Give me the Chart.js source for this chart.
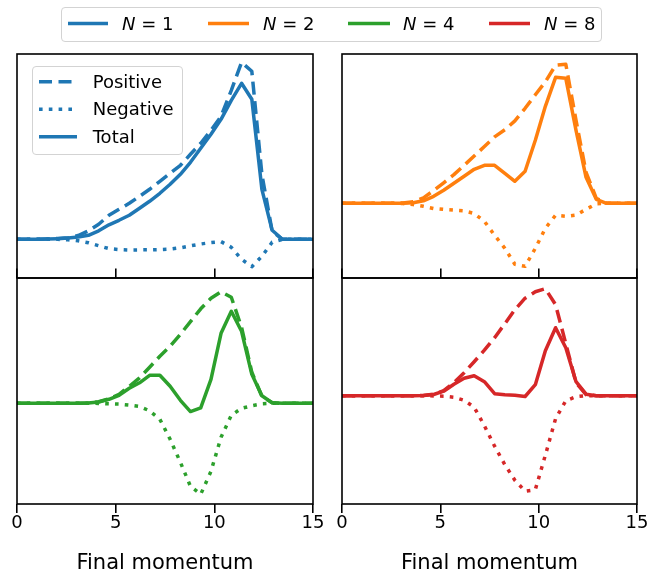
<!DOCTYPE html>
<html lang="en">
<head>
<meta charset="UTF-8">
<title>Final momentum</title>
<script src="https://cdn.jsdelivr.net/npm/chart.js"></script>
<style>
  body { margin: 0; background: #fff; font-family: "DejaVu Sans", sans-serif; }
  #page { position: relative; width: 663px; height: 574px; overflow: hidden; }
  canvas { position: absolute; }
  .box { position: absolute; box-sizing: border-box; border: 1.5px solid #d3d3d3; border-radius: 4px; background: #fff; }
  .txt { position: absolute; font-size: 18px; line-height: 20px; white-space: nowrap; color: #000; }
  svg { position: absolute; left: 0; top: 0; }
</style>
</head>
<body>
<div id="page">
  <canvas id="p1" width="330" height="244" style="left:0px; top:44px"></canvas>
  <canvas id="p2" width="330" height="244" style="left:325px; top:44px"></canvas>
  <canvas id="p3" width="330" height="312" style="left:0px; top:268px"></canvas>
  <canvas id="p4" width="330" height="312" style="left:325px; top:268px"></canvas>

  <div class="box" style="left:61px; top:7px; width:541px; height:35px"></div>
  <div class="box" style="left:32px; top:66px; width:151px; height:89px"></div>
  <svg width="663" height="574">
    <line x1="68" y1="23.5" x2="108" y2="23.5" stroke="#1f77b4" stroke-width="3.6"/>
    <line x1="208" y1="23.5" x2="249" y2="23.5" stroke="#ff7f0e" stroke-width="3.6"/>
    <line x1="348" y1="23.5" x2="390" y2="23.5" stroke="#2ca02c" stroke-width="3.6"/>
    <line x1="489" y1="23.5" x2="530" y2="23.5" stroke="#d62728" stroke-width="3.6"/>
    <line x1="39" y1="81.7" x2="77" y2="81.7" stroke="#1f77b4" stroke-width="3.6" stroke-dasharray="13 6.5"/>
    <line x1="39" y1="109.3" x2="77" y2="109.3" stroke="#1f77b4" stroke-width="3.6" stroke-dasharray="3.6 6.2"/>
    <line x1="39" y1="136.7" x2="77" y2="136.7" stroke="#1f77b4" stroke-width="3.6"/>
  </svg>
  <div class="txt" style="left:122px; top:13.5px"><i>N</i> = 1</div>
  <div class="txt" style="left:263px; top:13.5px"><i>N</i> = 2</div>
  <div class="txt" style="left:403px; top:13.5px"><i>N</i> = 4</div>
  <div class="txt" style="left:544px; top:13.5px"><i>N</i> = 8</div>
  <div class="txt" style="left:92.7px; top:71.7px">Positive</div>
  <div class="txt" style="left:92.7px; top:99.3px">Negative</div>
  <div class="txt" style="left:92.7px; top:126.7px">Total</div>
</div>
<script>
  // final momentum grid
  const momentum = [0, 0.52, 1.03, 1.55, 2.07, 2.59, 3.10, 3.62, 4.14, 4.66, 5.17, 5.69, 6.21, 6.72, 7.24,
                    7.76, 8.28, 8.79, 9.31, 9.83, 10.34, 10.86, 11.38, 11.90, 12.41, 12.93, 13.45, 13.97, 14.48, 15.00]

  // N = 1
  const n1Positive = [0, 0, 0, 0.3, 0.8, 1.5, 3.8, 8.5, 15, 24, 30, 36, 43, 50, 58,
                      66, 74, 85, 96, 109, 123, 149, 177, 168, 65, 8, 0, 0, 0, 0]
  const n1Negative = [0, 0, 0, 0, 0, -0.5, -1.5, -3.5, -6.5, -9.3, -10.3, -10.7, -10.6, -10.5, -10.3,
                      -9.8, -8.5, -6.5, -4.7, -3.3, -2.3, -8, -20, -27.4, -17, -3, 0, 0, 0, 0]
  const n1Total = [0, 0, 0, 0.2, 0.6, 1.2, 2.2, 4, 8.5, 14.5, 19, 24, 31, 38, 46,
                   55, 65, 77, 91, 105, 120, 139, 156, 140, 50, 9, 0, 0, 0, 0]

  // N = 2
  const n2Positive = [0, 0, 0, 0, 0, 0, 0.3, 1.5, 5.5, 12.8, 20.5, 28.7, 38, 47.3, 56.8,
                      66.4, 73.5, 82.4, 95, 108.5, 121.5, 138, 139, 83, 31, 5, 0, 0, 0, 0]
  const n2Negative = [0, 0, 0, 0, 0, 0, -0.2, -1.2, -3, -5.2, -6.1, -6.8, -7.5, -10.2, -18,
                      -32, -45, -61, -63, -45, -25, -12, -13, -11.7, -6, -0.5, 0, 0, 0, 0]
  const n2Total = [0, 0, 0, 0, 0, 0, 0.1, 0.5, 2.5, 7, 13, 20, 27, 34, 38,
                   38, 30, 22, 32, 63, 97, 126, 125, 73, 26, 4, 0, 0, 0, 0]

  // N = 4
  const n4Positive = [0, 0, 0, 0, 0, 0, 0, 0.3, 1.5, 4.5, 9, 17, 25.5, 36, 47,
                      57, 69, 81.6, 94.5, 105, 111.5, 106, 76, 31, 7, 0.5, 0, 0, 0, 0]
  const n4Negative = [0, 0, 0, 0, 0, 0, 0, 0, -0.1, -0.5, -0.8, -1.8, -3.2, -7.5, -16,
                      -36, -59, -83, -91, -68, -34, -12, -5, -2.5, -0.5, 0, 0, 0, 0, 0]
  const n4Total = [0, 0, 0, 0, 0, 0, 0, 0.2, 1.3, 4, 8, 15, 20.5, 28, 28,
                   17, 3, -8.3, -4.5, 24, 70, 92, 72, 29, 7.5, 0.5, 0, 0, 0, 0]

  // N = 8
  const n8Positive = [0, 0, 0, 0, 0, 0, 0, 0, 0.3, 1.5, 5, 13, 23, 34, 45.5,
                      58, 72, 86, 97.5, 104, 107, 91, 52, 13, 1, 0, 0, 0, 0, 0]
  const n8Negative = [0, 0, 0, 0, 0, 0, 0, 0, 0, -0.2, -0.5, -1.5, -4.6, -11.5, -30,
                      -50.5, -69, -84.5, -95.5, -94, -59.5, -23, -5, -1, 0, 0, 0, 0, 0, 0]
  const n8Total = [0, 0, 0, 0, 0, 0, 0, 0, 0.2, 1.2, 4.5, 11.5, 17.5, 20, 14,
                   2, 1, 0.5, -0.8, 11, 45, 68, 48, 14, 1.5, 0, 0, 0, 0, 0]

  // box around each plot (matplotlib spines)
  const frame = {
    id: 'frame',
    afterDraw(chart) {
      const a = chart.chartArea
      const ctx = chart.ctx
      ctx.save()
      ctx.strokeStyle = '#000'
      ctx.lineWidth = 1.6
      ctx.strokeRect(a.left, a.top, a.right - a.left, a.bottom - a.top)
      ctx.restore()
    }
  }

  function painel(id, cor, pos, neg, tot, yMin, yMax, embaixo, padRight) {
    const pts = arr => momentum.map((x, i) => ({ x: x, y: arr[i] }))
    new Chart(document.getElementById(id), {
      type: 'line',
      data: {
        datasets: [
          { label: 'Positive', data: pts(pos), borderColor: cor, borderDash: [13, 6.5], order: 2 },
          { label: 'Negative', data: pts(neg), borderColor: cor, borderDash: [3.6, 6.2], order: 1 },
          { label: 'Total', data: pts(tot), borderColor: cor, order: 0 }
        ]
      },
      options: {
        responsive: false,
        animation: false,
        layout: { autoPadding: false, padding: { left: 17, right: padRight, top: 10, bottom: embaixo ? 4 : 10 } },
        elements: {
          line: { borderWidth: 3.5, tension: 0, fill: false, borderJoinStyle: 'round', borderCapStyle: 'butt' },
          point: { radius: 0 }
        },
        plugins: { legend: { display: false }, tooltip: { enabled: false } },
        scales: {
          x: {
            type: 'linear', min: 0, max: 15,
            ticks: { stepSize: 5, display: embaixo, maxRotation: 0, autoSkip: false, padding: 0,
                     color: '#000', font: { family: 'DejaVu Sans', size: 18 } },
            grid: { drawOnChartArea: false, drawTicks: true, tickLength: embaixo ? 9 : -9.5, color: '#000', lineWidth: 1.6 },
            border: { display: false },
            title: { display: embaixo, text: 'Final momentum', color: '#000', padding: 0,
                     font: { family: 'DejaVu Sans', size: 21 } },
            afterFit: s => { s.height = embaixo ? 72 : 0 }
          },
          y: { display: false, min: yMin, max: yMax }
        }
      },
      plugins: [frame]
    })
  }

  painel('p1', '#1f77b4', n1Positive, n1Negative, n1Total, -38.7, 185.3, false, 17)
  painel('p2', '#ff7f0e', n2Positive, n2Negative, n2Total, -74.7, 149.3, false, 18)
  painel('p3', '#2ca02c', n4Positive, n4Negative, n4Total, -100.7, 125.3, true, 17)
  painel('p4', '#d62728', n8Positive, n8Negative, n8Total, -108.3, 117.7, true, 18)
</script>
</body>
</html>
